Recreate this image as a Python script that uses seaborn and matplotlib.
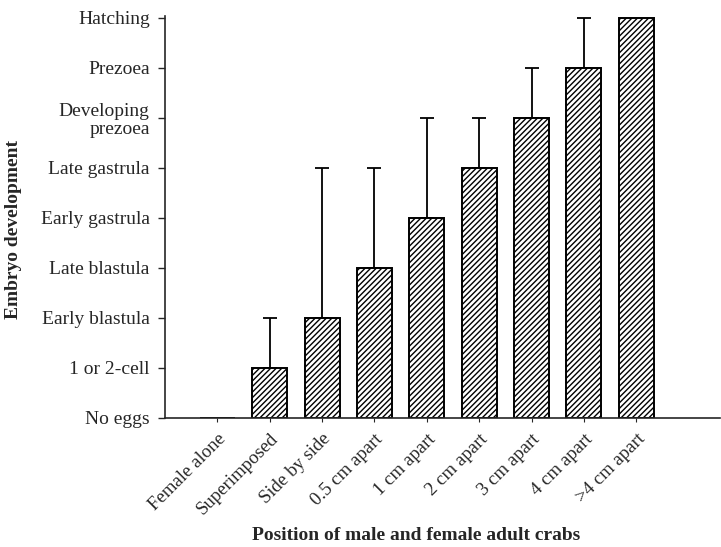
import matplotlib
matplotlib.use("Agg")
import matplotlib.pyplot as plt
import seaborn as sns
import numpy as np

positions = ["Female alone", "Superimposed", "Side by side", "0.5 cm apart",
             "1 cm apart", "2 cm apart", "3 cm apart", "4 cm apart", ">4 cm apart"]
stage = [0, 1, 2, 3, 4, 5, 6, 7, 8]
upper_err = [0, 1, 3, 2, 2, 1, 1, 1, 0]
stage_labels = ["No eggs", "1 or 2-cell", "Early blastula", "Late blastula",
                "Early gastrula", "Late gastrula", "Developing\nprezoea",
                "Prezoea", "Hatching"]

sns.set_style("ticks")
plt.rcParams["font.family"] = ["Liberation Serif", "DejaVu Serif"]
plt.rcParams["hatch.linewidth"] = 1.0

fig = plt.figure(figsize=(7.21, 5.47), dpi=100)
ax = fig.add_axes([165 / 721, 1 - 418 / 547, 555 / 721, 400 / 547 * 1.004])

sns.barplot(x=positions, y=stage, color="white", edgecolor="black",
            linewidth=1.4, width=0.67, ax=ax, zorder=2)
for p in ax.patches:
    p.set_hatch("//////")

xs = np.arange(len(positions))
errs = np.array(upper_err, dtype=float)
mask = errs > 0
ax.errorbar(xs[mask], np.array(stage)[mask],
            yerr=[np.zeros(mask.sum()), errs[mask]],
            fmt="none", ecolor="black", elinewidth=1.3, capsize=5,
            capthick=1.3, zorder=1)

ax.set_xlim(-1.0, 9.6)
ax.set_ylim(0, 8.03)
ax.set_yticks(range(9))
ax.set_yticklabels(stage_labels, fontsize=14, multialignment="right",
                   linespacing=1.1)
ax.set_xticks(xs)
ax.set_xticklabels(positions, rotation=45, ha="right", rotation_mode="anchor",
                   fontsize=13.5)
ax.tick_params(axis="y", length=5, width=1, pad=6)
ax.tick_params(axis="x", length=3, width=0.8, pad=6)

ax.set_ylabel("Embryo development", fontsize=14, fontweight="bold")
ax.yaxis.set_label_coords(-0.257, 0.47)
ax.set_xlabel("Position of male and female adult crabs", fontsize=14,
              fontweight="bold")
ax.xaxis.set_label_coords((416 - 165) / 555, -0.272)

for s in ["top", "right"]:
    ax.spines[s].set_visible(False)
ax.spines["left"].set_linewidth(1.2)
ax.spines["bottom"].set_linewidth(1.2)

fig.savefig("out.png", dpi=100)
